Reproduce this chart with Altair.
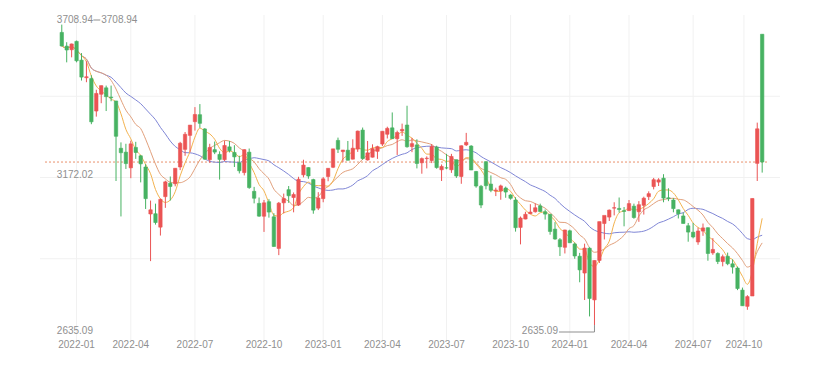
import altair as alt
import pandas as pd

# weekly candles (week start)
weeks = [
    "2021-12-13", "2021-12-20", "2021-12-27",
    "2022-01-04", "2022-01-10", "2022-01-17", "2022-01-24", "2022-02-07", "2022-02-14", "2022-02-21",
    "2022-02-28", "2022-03-07", "2022-03-14", "2022-03-21", "2022-03-28", "2022-04-06", "2022-04-11",
    "2022-04-18", "2022-04-25", "2022-05-05", "2022-05-09", "2022-05-16", "2022-05-23", "2022-05-30",
    "2022-06-06", "2022-06-13", "2022-06-20", "2022-06-27", "2022-07-04", "2022-07-11", "2022-07-18",
    "2022-07-25", "2022-08-01", "2022-08-08", "2022-08-15", "2022-08-22", "2022-08-29", "2022-09-05",
    "2022-09-13", "2022-09-19", "2022-09-26", "2022-10-10", "2022-10-17", "2022-10-24", "2022-10-31",
    "2022-11-07", "2022-11-14", "2022-11-21", "2022-11-28", "2022-12-05", "2022-12-12", "2022-12-19",
    "2022-12-26",
    "2023-01-03", "2023-01-09", "2023-01-16", "2023-01-30", "2023-02-06", "2023-02-13", "2023-02-20",
    "2023-02-27", "2023-03-06", "2023-03-13", "2023-03-20", "2023-03-27", "2023-04-03", "2023-04-10",
    "2023-04-17", "2023-04-24", "2023-05-04", "2023-05-08", "2023-05-15", "2023-05-22", "2023-05-29",
    "2023-06-05", "2023-06-12", "2023-06-19", "2023-06-26", "2023-07-03", "2023-07-10", "2023-07-17",
    "2023-07-24", "2023-07-31", "2023-08-07", "2023-08-14", "2023-08-21", "2023-08-28", "2023-09-04",
    "2023-09-11", "2023-09-18", "2023-09-25", "2023-10-09", "2023-10-16", "2023-10-23", "2023-10-30",
    "2023-11-06", "2023-11-13", "2023-11-20", "2023-11-27", "2023-12-04", "2023-12-11", "2023-12-18",
    "2023-12-25",
    "2024-01-02", "2024-01-08", "2024-01-15", "2024-01-22", "2024-01-29", "2024-02-05", "2024-02-19",
    "2024-02-26", "2024-03-04", "2024-03-11", "2024-03-18", "2024-03-25", "2024-04-01", "2024-04-08",
    "2024-04-15", "2024-04-22", "2024-04-29", "2024-05-06", "2024-05-13", "2024-05-20", "2024-05-27",
    "2024-06-03", "2024-06-11", "2024-06-17", "2024-06-24", "2024-07-01", "2024-07-08", "2024-07-15",
    "2024-07-22", "2024-07-29", "2024-08-05", "2024-08-12", "2024-08-19", "2024-08-26", "2024-09-02",
    "2024-09-09", "2024-09-18", "2024-09-23", "2024-09-30", "2024-10-08",
]

opens = [
    3681, 3632, 3619,
    3649, 3582, 3519, 3516, 3400, 3460, 3483, 3450, 3436, 3267, 3253, 3197, 3270, 3240,
    3200, 3032, 3033, 2985, 3094, 3142, 3140, 3200, 3263, 3313, 3362, 3387, 3336, 3226,
    3262, 3245, 3226, 3272, 3252, 3215, 3180, 3253, 3113, 3070, 3024, 3076, 3022, 2909,
    3072, 3119, 3091, 3064, 3172, 3198, 3155, 3053,
    3087, 3166, 3199, 3295, 3255, 3260, 3228, 3264, 3332, 3225, 3235, 3256, 3282, 3317,
    3340, 3301, 3329, 3350, 3273, 3279, 3215, 3230, 3223, 3271, 3190, 3197, 3190, 3226,
    3166, 3279, 3275, 3184, 3131, 3219, 3139, 3115, 3115, 3125, 3100, 3082, 2984, 3014,
    3033, 3040, 3061, 3040, 3031, 2978, 2940, 2913,
    2972, 2925, 2881, 2821, 2910, 2725, 2866, 2998, 3021, 3053, 3052, 3044, 3044, 3060,
    3040, 3063, 3094, 3130, 3146, 3160, 3090, 3082, 3047, 3025, 2990, 2967, 2932, 2971,
    2983, 2893, 2891, 2862, 2881, 2854, 2839, 2760, 2702, 2739, 3213, 3674.41,
]

highs = [
    3708.94, 3646, 3641,
    3651.89, 3607, 3578, 3528, 3476, 3491, 3491, 3491, 3436, 3288, 3283, 3294, 3290, 3243,
    3210, 3080, 3069, 3087, 3151, 3166, 3196, 3290, 3325, 3350, 3414, 3424.84, 3339, 3283,
    3291, 3256, 3294, 3293, 3278, 3240, 3263, 3266, 3129, 3091, 3082, 3085, 3035, 3075,
    3105, 3132, 3109, 3165, 3226, 3199, 3158, 3110,
    3164, 3195, 3265, 3305, 3260, 3293, 3299, 3330, 3341, 3293, 3281, 3276, 3328, 3344,
    3395, 3330, 3355, 3418.95, 3304, 3299, 3234, 3238, 3282, 3276, 3209, 3247, 3247, 3226,
    3277, 3322, 3278, 3186, 3136, 3219, 3170, 3126, 3137, 3130, 3103, 3092, 3023, 3040,
    3067, 3070, 3069, 3048, 3031, 3003, 2946, 2976,
    2976, 2930, 2893, 2926, 2913, 2866, 3004, 3024, 3048, 3074, 3091, 3057, 3082, 3069,
    3078, 3094, 3113, 3161, 3160, 3174.27, 3124, 3089, 3048, 3037, 3000, 3000, 2983, 2998,
    2984, 2946, 2895, 2887, 2894, 2870, 2844, 2769, 2742, 3087.53, 3358.59, 3674.41,
]

lows = [
    3631, 3574, 3592,
    3574, 3509, 3503, 3353, 3380, 3428, 3400, 3435, 3150, 3023.3, 3193, 3160, 3229, 3145,
    3050, 2863.65, 2994, 2955, 3054, 3080, 3131, 3189, 3240, 3253, 3330, 3340, 3226, 3215,
    3246, 3155, 3221, 3252, 3200, 3177, 3170, 3122, 3070, 3021.9, 2968, 3019, 2915, 2885,
    3034, 3072, 3038, 3061, 3163, 3158, 3033, 3046,
    3074, 3149, 3196, 3250, 3217, 3224, 3227, 3254, 3226, 3223, 3234, 3229, 3275, 3302,
    3300, 3243, 3311, 3269, 3253, 3195, 3176, 3195, 3214, 3194, 3150, 3192, 3179, 3161,
    3140, 3275, 3189, 3126, 3053, 3120, 3110, 3096, 3083, 3090, 3083, 2969, 2923.51, 3013,
    3032, 3037, 3039, 3012, 2958, 2940, 2882, 2891,
    2929, 2872, 2788, 2724.59, 2666, 2635.09, 2857, 2941, 3007, 3027, 3037, 2988, 3043, 3015,
    3004, 3030, 3082, 3120, 3132, 3074, 3078, 3038, 3016, 2998, 2933, 2945, 2922, 2954,
    2865, 2886, 2853, 2845, 2849, 2819, 2760, 2704, 2689.70, 2739, 3150, 3180,
]

closes = [
    3632.36, 3618.05, 3639.78,
    3579.54, 3521.26, 3522.57, 3361.44, 3462.95, 3490.76, 3451.41, 3447.65, 3309.75, 3251.07,
    3212.24, 3282.72, 3251.85, 3211.24, 3086.92, 3047.06, 3001.56, 3084.28, 3146.86, 3130.24,
    3195.46, 3284.83, 3316.79, 3349.75, 3387.64, 3356.08, 3228.06, 3269.97, 3253.24, 3227.03,
    3276.89, 3258.08, 3236.22, 3186.48, 3262.05, 3126.40, 3088.37, 3024.39, 3071.99, 3038.93,
    2915.93, 3070.80, 3087.29, 3097.24, 3101.69, 3156.14, 3206.95, 3167.86, 3045.87, 3089.26,
    3157.64, 3195.31, 3264.81, 3263.41, 3260.67, 3224.02, 3267.16, 3328.39, 3230.08, 3250.55,
    3265.65, 3272.86, 3327.65, 3338.15, 3301.26, 3323.27, 3334.50, 3272.36, 3283.54, 3212.50,
    3230.07, 3231.41, 3273.33, 3197.90, 3202.06, 3196.61, 3237.70, 3167.75, 3275.93, 3288.08,
    3189.25, 3131.95, 3064.07, 3133.25, 3116.72, 3117.74, 3132.43, 3110.48, 3088.10, 2983.06,
    3017.78, 3030.80, 3038.97, 3054.37, 3040.97, 3031.64, 2969.56, 2942.56, 2914.78, 2974.93,
    2929.18, 2881.98, 2832.28, 2910.22, 2730.15, 2865.90, 3004.88, 3027.02, 3046.02, 3054.64,
    3048.03, 3041.17, 3069.30, 3019.47, 3065.26, 3088.64, 3104.82, 3154.55, 3154.03, 3088.87,
    3086.81, 3051.28, 3032.63, 2998.14, 2967.40, 2949.93, 2971.29, 2982.31, 2890.90, 2905.34,
    2862.19, 2879.43, 2854.37, 2842.21, 2765.81, 2704.09, 2736.81, 3087.53, 3336.50, 3217.74,
]

# axis tick labels (positions are candle indices of first week of each month)
x_tick_pos = [3, 14, 27, 41, 53, 65, 78, 91, 103, 115, 128, 138.3]
x_tick_labels = ["2022-01", "2022-04", "2022-07", "2022-10", "2023-01", "2023-04",
                 "2023-07", "2023-10", "2024-01", "2024-04", "2024-07", "2024-10"]

y_max, y_mid, y_min = 3708.94, 3172.02, 2635.09
y_label_texts = ["3708.94", "3172.02", "2635.09"]

RED = "#eb5454"
GREEN = "#47b262"
GRAY = "#8f8f8f"
GRID = "#f1f1f1"
FONT = "Liberation Sans"

Y_TOP, Y_BOT = 3743.25, 2581.7
X_LEFT, X_RIGHT = -3.4, 144.6

df = pd.DataFrame({
    "week": weeks,
    "idx": list(range(len(weeks))),
    "open": opens,
    "high": highs,
    "low": lows,
    "close": closes,
})

xs = alt.Scale(domain=[X_LEFT, X_RIGHT], nice=False, zero=False)
ys = alt.Scale(domain=[Y_BOT, Y_TOP], nice=False, zero=False)

X = alt.X("idx:Q", scale=xs, axis=None)
color = alt.condition("datum.close >= datum.open", alt.value(RED), alt.value(GREEN))

base = alt.Chart(df)

# faint grid
span = Y_TOP - Y_BOT
hgrid_df = pd.DataFrame({"p": [Y_TOP - span * k / 4 for k in (1, 2, 3)]})
hgrid = alt.Chart(hgrid_df).mark_rule(color=GRID, strokeWidth=1).encode(
    y=alt.Y("p:Q", scale=ys, axis=None)
)
vgrid_df = pd.DataFrame({"x": x_tick_pos})
vgrid = alt.Chart(vgrid_df).mark_rule(color=GRID, strokeWidth=1).encode(
    x=alt.X("x:Q", scale=xs, axis=None)
)

wicks = base.mark_rule(strokeWidth=1).encode(
    x=X, y=alt.Y("low:Q", scale=ys, axis=None), y2="high:Q", color=color
)
bodies = base.mark_bar(size=3.4, strokeWidth=0.6).encode(
    x=X, y=alt.Y("open:Q", scale=ys, axis=None), y2="close:Q", color=color, stroke=color
)

def ma_line(n, col):
    name = f"ma{n}"
    return base.transform_window(
        **{name: "mean(close)"}, frame=[-(n - 1), 0], sort=[alt.SortField("idx")]
    ).mark_line(color=col, strokeWidth=1, interpolate="monotone").encode(
        x=X, y=alt.Y(f"{name}:Q", scale=ys, axis=None)
    )

ma5 = ma_line(5, "#f3b24e")
ma10 = ma_line(10, "#e2a07c")
ma20 = ma_line(20, "#7f86d6")

# last close dotted line
last_df = pd.DataFrame({"x0": [X_LEFT], "x1": [143.2], "p": [closes[-1]]})
last_line = alt.Chart(last_df).mark_rule(color="#e9906c", strokeDash=[2, 2], strokeWidth=1).encode(
    x=alt.X("x0:Q", scale=xs, axis=None), x2="x1:Q", y=alt.Y("p:Q", scale=ys, axis=None)
)

# price labels on the left (max / mid / min)
ylab_df = pd.DataFrame({
    "x": [-1.0, -1.0, -1.0],
    "p": [y_max + 16.4, y_mid, y_min - 21.4],
    "t": y_label_texts,
})
ylabels = alt.Chart(ylab_df).mark_text(
    align="left", baseline="middle", fontSize=10, font=FONT, color=GRAY
).encode(x=alt.X("x:Q", scale=xs, axis=None), y=alt.Y("p:Q", scale=ys, axis=None), text="t:N")

# max marker
max_rule_df = pd.DataFrame({"x0": [6.4], "x1": [7.8], "p": [y_max + 16.4]})
max_rule = alt.Chart(max_rule_df).mark_rule(color=GRAY, strokeWidth=1).encode(
    x=alt.X("x0:Q", scale=xs, axis=None), x2="x1:Q", y=alt.Y("p:Q", scale=ys, axis=None)
)
max_text = alt.Chart(pd.DataFrame({"x": [8.0], "p": [y_max + 16.4], "t": ["3708.94"]})).mark_text(
    align="left", baseline="middle", fontSize=10, font=FONT, color=GRAY
).encode(x=alt.X("x:Q", scale=xs, axis=None), y=alt.Y("p:Q", scale=ys, axis=None), text="t:N")

# min marker
min_idx = lows.index(min(lows))
min_h = alt.Chart(pd.DataFrame({"x0": [100.8], "x1": [min_idx], "p": [y_min - 24.8]})).mark_rule(
    color=GRAY, strokeWidth=1
).encode(x=alt.X("x0:Q", scale=xs, axis=None), x2="x1:Q", y=alt.Y("p:Q", scale=ys, axis=None))
min_v = alt.Chart(pd.DataFrame({"x": [min_idx], "p0": [y_min], "p1": [y_min - 24.8]})).mark_rule(
    color=GRAY, strokeWidth=1
).encode(x=alt.X("x:Q", scale=xs, axis=None), y=alt.Y("p0:Q", scale=ys, axis=None), y2="p1:Q")
min_text = alt.Chart(pd.DataFrame({"x": [100.6], "p": [y_min - 21.4], "t": ["2635.09"]})).mark_text(
    align="right", baseline="middle", fontSize=10, font=FONT, color=GRAY
).encode(x=alt.X("x:Q", scale=xs, axis=None), y=alt.Y("p:Q", scale=ys, axis=None), text="t:N")

# x axis labels
xlab_df = pd.DataFrame({"x": x_tick_pos, "t": x_tick_labels, "p": [2563.8] * len(x_tick_pos)})
xlabels = alt.Chart(xlab_df).mark_text(
    align="center", baseline="middle", fontSize=10, font=FONT, color=GRAY
).encode(x=alt.X("x:Q", scale=xs, axis=None), y=alt.Y("p:Q", scale=ys, axis=None), text="t:N")

chart = alt.layer(
    hgrid, vgrid, last_line, ma20, ma10, ma5, wicks, bodies,
    ylabels, max_rule, max_text, min_h, min_v, min_text, xlabels
).properties(
    width=740, height=325,
    autosize=alt.AutoSizeParams(type="none"),
    padding={"left": 32, "top": 7, "right": 30, "bottom": 38},
    background="white",
).configure_view(stroke="transparent")

chart.save("out.html", embed_options={"renderer": "svg", "actions": False})
